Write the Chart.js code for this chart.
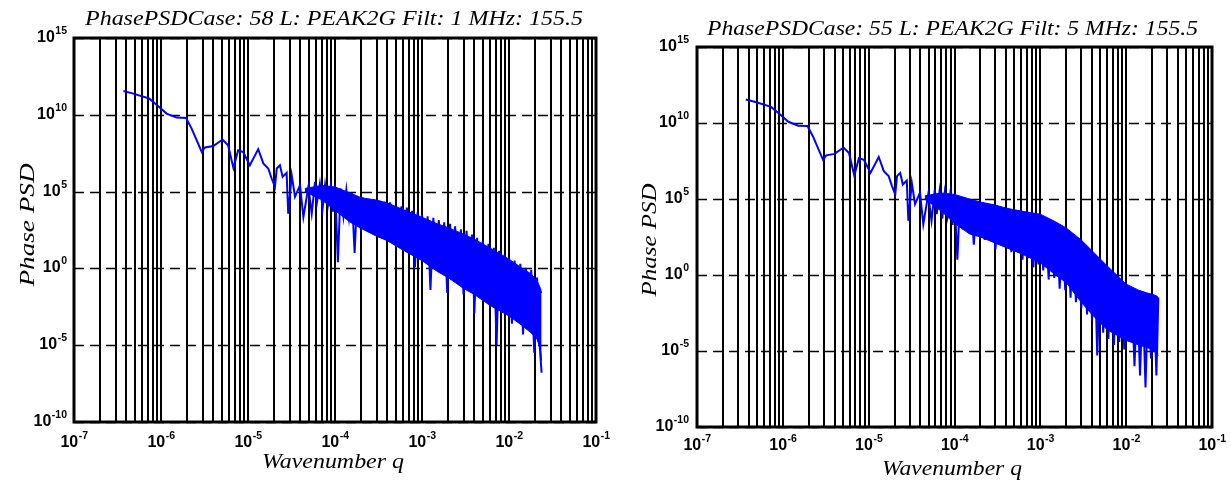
<!DOCTYPE html>
<html><head><meta charset="utf-8">
<script src="https://cdn.jsdelivr.net/npm/chart.js@4.4.0/dist/chart.umd.min.js"></script>
<style>
html,body{margin:0;padding:0;background:#fff;width:1231px;height:483px;overflow:hidden}
.c{position:absolute;top:0}
</style></head><body>
<div class="c" style="left:0;width:620px;height:483px"><canvas id="c1" width="620" height="483"></canvas></div>
<div class="c" style="left:620px;width:611px;height:483px"><canvas id="c2" width="611" height="483"></canvas></div>
<script>
// ---- data ----
const wavenumber = [
  3.7e-7, 4.8e-7, 7.3e-7, 9.3e-7, 1.16e-6, 1.51e-6, 1.94e-6, 2.25e-6, 2.94e-6, 3.2e-6,
  4.0e-6, 5.1e-6, 5.9e-6, 6.8e-6, 7.7e-6, 8.8e-6, 1.05e-5, 1.31e-5, 1.5e-5, 1.71e-5,
  1.87e-5, 2.04e-5, 2.14e-5, 2.33e-5, 2.5e-5, 2.78e-5, 2.9e-5, 3.18e-5, 3.47e-5, 3.96e-5,
  4.33e-5, 4.94e-5, 5.4e-5, 5.9e-5,
  6.2e-5, 6.7e-5, 7.2e-5, 7.7e-5, 8.3e-5, 8.9e-5, 9.5e-5,
  1.0e-4, 1.08e-4, 1.16e-4, 1.25e-4, 1.35e-4, 1.45e-4, 1.56e-4, 1.68e-4, 1.8e-4, 1.95e-4,
  2.1e-4, 2.25e-4, 2.4e-4, 2.6e-4, 2.8e-4, 3.0e-4, 3.25e-4, 3.5e-4, 3.75e-4, 4.0e-4,
  4.3e-4, 4.6e-4, 5.0e-4, 5.4e-4, 5.8e-4, 6.2e-4, 6.7e-4, 7.2e-4, 7.7e-4, 8.3e-4, 8.9e-4, 9.5e-4,
  1.0e-3, 1.08e-3, 1.16e-3, 1.25e-3, 1.35e-3, 1.45e-3, 1.56e-3, 1.68e-3, 1.8e-3, 1.95e-3,
  2.1e-3, 2.25e-3, 2.4e-3, 2.6e-3, 2.8e-3, 3.0e-3, 3.25e-3, 3.5e-3, 3.75e-3, 4.0e-3,
  4.3e-3, 4.6e-3, 5.0e-3, 5.4e-3, 5.8e-3, 6.2e-3, 6.7e-3, 7.2e-3, 7.7e-3, 8.3e-3, 8.9e-3, 9.5e-3,
  1.0e-2, 1.08e-2, 1.16e-2, 1.25e-2, 1.35e-2, 1.45e-2, 1.56e-2, 1.68e-2, 1.8e-2, 1.95e-2,
  2.1e-2, 2.25e-2, 2.37e-2
];
const psdLeft = [
  3.5e11, 2.4e11, 1.15e11, 3.6e10, 1.2e10, 6.6e9, 6.3e9, 1.26e9, 3.8e7, 7.4e7,
  9.3e7, 2.45e8, 1.05e8, 3.5e6, 4.9e7, 3.8e7, 5.2e6, 5.8e7, 6.8e6, 3.2e6,
  7.1e5, 2e5, 3.2e6, 5.2e6, 9.1e5, 1.66e6, 3.7e3, 1.17e6, 4.6e4, 2.6e5,
  2.2e3, 2e5, 3.7e3, 4.3e5,
  2e4, 3.2e5, 8e3, 2.8e5, 1.3e4, 2e5, 5e3,
  2.5e5, 2.5, 1.6e5, 2.5e3, 1.25e5, 2e3, 8e4, 10, 5e4, 800,
  4e4, 400, 3.2e4, 320, 3.2e4, 160, 2.5e4, 200, 2.2e4, 80,
  2e4, 50, 1.25e4, 63, 1.1e4, 20, 9e3, 16, 5.6e3, 1.25, 4.5e3, 8,
  3.2e3, 6.3, 2.5e3, 0.04, 2e3, 2.5, 1.4e3, 1.6, 1e3, 0.025,
  800, 0.63, 560, 0.4, 350, 0.02, 280, 0.16, 160, 1.25e-3,
  100, 0.063, 63, 0.032, 40, 0.02, 22, 1e-5, 14, 6.3e-3, 8, 4e-3,
  5, 2.5e-4, 3.2, 1.6e-3, 2, 5e-5, 1.1, 5e-4, 0.8, 3.2e-6,
  0.25, 1e-5, 1.6e-7
];
const psdRight = [
  3.5e11, 2.4e11, 1.15e11, 3.6e10, 1.2e10, 6.6e9, 6.3e9, 1.26e9, 3.8e7, 7.4e7,
  9.3e7, 2.45e8, 1.05e8, 3.5e6, 4.9e7, 3.8e7, 5.2e6, 5.8e7, 6.8e6, 3.2e6,
  7.1e5, 2e5, 3.2e6, 5.2e6, 9.1e5, 1.66e6, 3.7e3, 1.17e6, 4.6e4, 2.6e5,
  2.2e3, 2e5, 3.7e3, 4.3e5,
  1e4, 3.2e5, 5e3, 2.5e5, 8e3, 2e5, 2e3,
  2e5, 10, 1.25e5, 1e3, 8e4, 630, 6.3e4, 100, 4e4, 400,
  3.2e4, 200, 2.8e4, 250, 2.5e4, 50, 2e4, 100, 1.8e4, 63,
  1.6e4, 32, 1.25e4, 40, 1.1e4, 10, 1e4, 12.6, 9e3, 3.2, 8e3, 5,
  6.3e3, 2, 4e3, 0.5, 2.5e3, 0.63, 1.25e3, 0.125, 800, 0.1,
  400, 0.032, 200, 0.016, 125, 6.3e-3, 63, 2.5e-3, 25, 1e-3,
  12.6, 5e-6, 5, 1.6e-4, 2.5, 6.3e-5, 1.25, 2.5e-5, 0.4, 4e-5, 0.16, 1.25e-5,
  0.1, 5e-5, 0.1, 1e-6, 0.063, 2.5e-7, 0.05, 4e-8, 0.04, 3.2e-6,
  0.04, 2.5e-7, 0.032
];
// dense noise band (upper and lower edges of the solid blue region)
const bandWavenumber = [4.5e-5, 7e-5, 1e-4, 1.5e-4, 2e-4, 3e-4, 4e-4, 6e-4, 1e-3, 1.5e-3,
  2e-3, 3e-3, 4e-3, 6e-3, 1e-2, 1.4e-2, 1.8e-2, 2.1e-2, 2.3e-2, 2.37e-2];
const bandUpperLeft = [1.6e5, 2.5e5, 2e5, 8e4, 4e4, 2.8e4, 1.8e4, 7e3, 2.1e3, 800,
  450, 170, 80, 22, 4, 1.07, 0.43, 0.16, 0.05, 0.025];
const bandLowerLeft = [1e5, 3e4, 6e3, 1e3, 400, 125, 63, 16, 3.2, 0.63,
  0.25, 0.05, 0.02, 4e-3, 8e-4, 2e-4, 6.3e-5, 2.5e-5, 5e-6, 1e-6];
const bandUpperRight = [1.6e5, 2.5e5, 2e5, 1e5, 6.3e4, 4e4, 2.5e4, 1.6e4, 1e4, 3.2e3,
  1.25e3, 200, 40, 4, 0.25, 0.1, 0.063, 0.05, 0.04, 0.032];
const bandLowerRight = [1e5, 1.6e4, 2.5e3, 500, 320, 125, 63, 25, 6.3, 1,
  0.32, 0.016, 2.5e-3, 2.5e-4, 5e-5, 2.5e-5, 1.6e-5, 1e-5, 6.3e-6, 5e-6];

const xTickValues = [1e-7, 1e-6, 1e-5, 1e-4, 1e-3, 1e-2, 1e-1];
const xTickExponents = ['-7', '-6', '-5', '-4', '-3', '-2', '-1'];
const yTickValues = [1e-10, 1e-5, 1, 1e5, 1e10, 1e15];
const yTickExponents = ['-10', '-5', '0', '5', '10', '15'];
const chartTitles = ['PhasePSDCase: 58 L: PEAK2G Filt: 1 MHz: 155.5', 'PhasePSDCase: 55 L: PEAK2G Filt: 5 MHz: 155.5'];
const xAxisTitle = 'Wavenumber q';
const yAxisTitle = 'Phase PSD';

// ---- layout (pixels within each canvas) ----
const layouts = [
  {w:620, area:{l:74, t:38, r:596, b:422}, title:{x:85, w:498, base:25},
   xt:{cx:333, w:142, base:468}, yt:{x:34, cy:225, w:123}, xlab:25, ylabGap:7},
  {w:611, area:{l:77, t:47, r:592, b:427}, title:{x:87, w:491, base:35},
   xt:{cx:332, w:140, base:475}, yt:{x:36, cy:240, w:113}, xlab:23, ylabGap:8}
];

const SERIF = '"Liberation Serif","Times New Roman",serif';
const SANS = '"Liberation Sans",Arial,sans-serif';
const BLUE = '#0000ff';

function gridValues(){
  const v = [];
  for (let k = -7; k <= -2; k++) for (let m = 1; m <= 9; m++) v.push(m * Math.pow(10, k));
  v.push(1e-1);
  return v;
}

function scaledText(ctx, text, x, y, font, targetW, centered){
  ctx.save();
  ctx.font = font;
  const w = ctx.measureText(text).width;
  const s = targetW ? targetW / w : 1;
  ctx.translate(x, y);
  ctx.scale(s, 1);
  ctx.textAlign = 'left';
  ctx.textBaseline = 'alphabetic';
  ctx.fillText(text, centered ? -w / 2 : 0, 0);
  ctx.restore();
}

function makeDecor(idx){
  const L = layouts[idx];
  return {
    id: 'decor' + idx,
    beforeDatasetsDraw(chart){
      const ctx = chart.ctx, a = chart.chartArea;
      const xs = chart.scales.x, ys = chart.scales.y;
      ctx.save();
      ctx.strokeStyle = '#000';
      ctx.lineWidth = 2;
      gridValues().forEach(v => {
        const px = Math.round(xs.getPixelForValue(v));
        ctx.beginPath(); ctx.moveTo(px, a.top); ctx.lineTo(px, a.bottom); ctx.stroke();
      });
      ctx.lineWidth = 1.5;
      ctx.setLineDash([10, 6]);
      yTickValues.forEach(v => {
        const py = Math.round(ys.getPixelForValue(v)) + 0.5;
        ctx.beginPath(); ctx.moveTo(a.left, py); ctx.lineTo(a.right, py); ctx.stroke();
      });
      ctx.restore();
    },
    afterDraw(chart){
      const ctx = chart.ctx, a = chart.chartArea;
      const xs = chart.scales.x, ys = chart.scales.y;
      ctx.save();
      ctx.strokeStyle = '#000';
      ctx.lineWidth = 3;
      ctx.strokeRect(a.left, a.top, a.right - a.left, a.bottom - a.top);
      ctx.fillStyle = '#000';
      const fBase = 'bold 16px ' + SANS, fExp = 'bold 10.5px ' + SANS;
      xTickValues.forEach((v, i) => {
        const px = xs.getPixelForValue(v);
        ctx.font = fBase; const w1 = ctx.measureText('10').width;
        ctx.font = fExp; const w2 = ctx.measureText(xTickExponents[i]).width;
        const x0 = px - (w1 + w2) / 2;
        const base = a.bottom + L.xlab;
        ctx.textAlign = 'left'; ctx.textBaseline = 'alphabetic';
        ctx.font = fBase; ctx.fillText('10', x0, base);
        ctx.font = fExp; ctx.fillText(xTickExponents[i], x0 + w1 + 0.5, base - 8);
      });
      yTickValues.forEach((v, i) => {
        const py = ys.getPixelForValue(v);
        ctx.font = fBase; const w1 = ctx.measureText('10').width;
        ctx.font = fExp; const w2 = ctx.measureText(yTickExponents[i]).width;
        const xr = a.left - L.ylabGap;
        const base = py + 4;
        ctx.textAlign = 'left'; ctx.textBaseline = 'alphabetic';
        ctx.font = fBase; ctx.fillText('10', xr - w2 - w1 - 0.5, base);
        ctx.font = fExp; ctx.fillText(yTickExponents[i], xr - w2, base - 8);
      });
      scaledText(ctx, chartTitles[idx], L.title.x, L.title.base, 'italic 22px ' + SERIF, L.title.w, false);
      scaledText(ctx, xAxisTitle, L.xt.cx, L.xt.base, 'italic 22px ' + SERIF, L.xt.w, true);
      ctx.save();
      ctx.translate(L.yt.x, L.yt.cy);
      ctx.rotate(-Math.PI / 2);
      scaledText(ctx, yAxisTitle, 0, 0, 'italic 22px ' + SERIF, L.yt.w, true);
      ctx.restore();
      ctx.restore();
    }
  };
}

function pairs(xs, ys){ return xs.map((q, i) => ({x: q, y: ys[i]})); }

function makeChart(canvasId, idx, values, bandUp, bandLow){
  const L = layouts[idx];
  return new Chart(document.getElementById(canvasId), {
    type: 'line',
    data: { datasets: [
      { data: pairs(bandWavenumber, bandUp), borderColor: BLUE, backgroundColor: BLUE,
        borderWidth: 1, pointRadius: 0, tension: 0, fill: '+1' },
      { data: pairs(bandWavenumber, bandLow), borderColor: BLUE, backgroundColor: BLUE,
        borderWidth: 1, pointRadius: 0, tension: 0, fill: false },
      { data: pairs(wavenumber, values), borderColor: BLUE, borderWidth: 2, pointRadius: 0,
        tension: 0, fill: false }
    ] },
    options: {
      responsive: false, animation: false, devicePixelRatio: 1,
      layout: { padding: { left: 0, top: L.area.t, right: L.w - L.area.r, bottom: 0 } },
      plugins: { legend: { display: false }, tooltip: { enabled: false }, title: { display: false } },
      scales: {
        x: { type: 'logarithmic', min: 1e-7, max: 1e-1,
             ticks: { display: false }, grid: { display: false }, border: { display: false },
             afterFit(s){ s.height = 483 - L.area.b; } },
        y: { type: 'logarithmic', min: 1e-10, max: 1e15,
             ticks: { display: false }, grid: { display: false }, border: { display: false },
             afterFit(s){ s.width = L.area.l; } }
      }
    },
    plugins: [makeDecor(idx)]
  });
}

makeChart('c1', 0, psdLeft, bandUpperLeft, bandLowerLeft);
makeChart('c2', 1, psdRight, bandUpperRight, bandLowerRight);
</script>
</body></html>
